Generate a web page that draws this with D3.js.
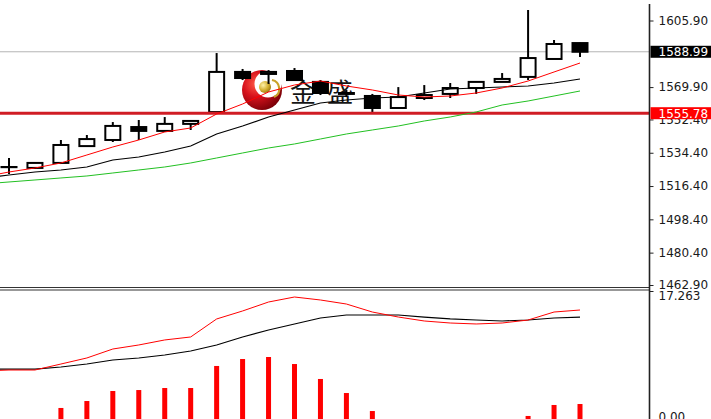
<!DOCTYPE html>
<html>
<head>
<meta charset="utf-8">
<script src="https://cdn.jsdelivr.net/npm/d3@7"></script>
<style>
  html, body { margin: 0; padding: 0; background: #fff; overflow: hidden; }
  svg { display: block; }
</style>
</head>
<body>
<div id="chart"></div>
<script>
// ---------------- data ----------------
const open  = [1526.6, 1526.2, 1528.9, 1538.0, 1541.3, 1548.3, 1546.2, 1550.0, 1556.4, 1578.1, 1577.0, 1578.6, 1572.7, 1566.2, 1565.1, 1558.6, 1564.0, 1566.2, 1569.4, 1572.7, 1575.4, 1585.1, 1593.7];
const high  = [1531.6, 1529.0, 1541.3, 1544.0, 1551.0, 1552.1, 1553.7, 1552.1, 1588.3, 1579.7, 1579.1, 1580.2, 1573.7, 1568.3, 1566.2, 1569.9, 1571.0, 1572.1, 1572.7, 1577.5, 1611.6, 1595.4, 1593.9];
const low   = [1522.9, 1525.6, 1528.3, 1537.8, 1540.2, 1541.3, 1545.6, 1546.7, 1556.2, 1573.7, 1571.6, 1573.2, 1565.6, 1564.5, 1555.9, 1558.6, 1562.9, 1564.0, 1566.2, 1572.7, 1573.7, 1585.1, 1586.2];
const close = [1526.7, 1528.9, 1538.6, 1541.8, 1548.9, 1546.2, 1550.0, 1551.6, 1578.1, 1574.8, 1578.1, 1573.7, 1566.7, 1566.7, 1558.6, 1564.5, 1565.6, 1569.4, 1572.7, 1574.3, 1585.6, 1593.2, 1588.99];

// moving averages (first value belongs to the bar before the first visible one)
const maRed   = [1521.30, 1524.00, 1526.16, 1528.87, 1533.19, 1537.51, 1541.30, 1545.63, 1547.79, 1555.35, 1560.76, 1567.25, 1571.03, 1573.19, 1570.49, 1568.33, 1565.63, 1564.54, 1565.08, 1566.71, 1569.41, 1573.19, 1578.06, 1582.92];
const maBlack = [1520.76, 1522.38, 1524.00, 1525.08, 1526.70, 1530.49, 1532.11, 1534.81, 1538.05, 1544.54, 1548.87, 1553.73, 1557.52, 1561.30, 1562.92, 1564.00, 1564.54, 1566.71, 1568.87, 1569.41, 1569.95, 1570.49, 1572.11, 1574.28];
const maGreen = [1517.51, 1518.60, 1519.68, 1520.76, 1521.84, 1523.46, 1525.08, 1526.70, 1528.87, 1531.57, 1534.27, 1536.97, 1539.14, 1541.84, 1544.54, 1546.71, 1548.87, 1551.57, 1553.73, 1556.44, 1560.22, 1562.38, 1565.08, 1567.79];

// MACD panel
const macdRed   = [6.56, 6.69, 6.69, 7.49, 8.30, 9.50, 10.04, 10.71, 11.11, 13.52, 14.59, 15.79, 16.46, 16.06, 15.52, 14.45, 13.78, 13.25, 12.98, 12.85, 12.98, 13.38, 14.45, 14.72];
const macdBlack = [6.82, 6.82, 6.82, 7.09, 7.49, 8.03, 8.30, 8.70, 9.23, 10.04, 11.11, 12.04, 12.85, 13.65, 14.05, 14.05, 14.05, 13.78, 13.52, 13.38, 13.25, 13.38, 13.65, 13.78];
const macdHist  = [0, 0, 1.61, 2.54, 3.88, 4.01, 4.28, 4.28, 7.23, 8.16, 8.43, 7.49, 5.49, 3.61, 1.20, 0, 0, 0, 0, 0, 0.54, 2.01, 2.14];

const priceTicks = [1605.90, 1569.90, 1552.40, 1534.40, 1516.40, 1498.40, 1480.40, 1462.90];
const macdTicks  = [17.263, 0];
const lastPrice  = 1588.99;
const levelPrice = 1555.78;
const logoText   = ["金", "盛"];

// ---------------- drawing ----------------
const W = 711, H = 419;
const axisX = 649.5;
const svg = d3.select("#chart").append("svg").attr("width", W).attr("height", H);

const x  = d3.scaleLinear().domain([0, 22]).range([9, 580]);
const y  = d3.scaleLinear().domain([1462.9, 1605.9]).range([285, 20.5]);
const my = d3.scaleLinear().domain([0, 17.263]).range([420, 291]);

const defs = svg.append("defs");
defs.append("clipPath").attr("id", "mainClip").append("rect")
  .attr("x", 0).attr("y", 0).attr("width", axisX).attr("height", 287);
defs.append("clipPath").attr("id", "macdClip").append("rect")
  .attr("x", 0).attr("y", 291).attr("width", axisX).attr("height", 130);

const rg = defs.append("radialGradient").attr("id", "redBall")
  .attr("cx", "35%").attr("cy", "35%").attr("r", "70%");
rg.append("stop").attr("offset", "0%").attr("stop-color", "#ff5a48");
rg.append("stop").attr("offset", "45%").attr("stop-color", "#d8121c");
rg.append("stop").attr("offset", "100%").attr("stop-color", "#7a0008");
const gg = defs.append("radialGradient").attr("id", "goldBall")
  .attr("cx", "35%").attr("cy", "35%").attr("r", "70%");
gg.append("stop").attr("offset", "0%").attr("stop-color", "#fff2a8");
gg.append("stop").attr("offset", "60%").attr("stop-color", "#d4b030");
gg.append("stop").attr("offset", "100%").attr("stop-color", "#9a7810");

const main = svg.append("g").attr("clip-path", "url(#mainClip)");

// last price grey line
main.append("line")
  .attr("x1", 0).attr("x2", axisX)
  .attr("y1", y(lastPrice)).attr("y2", y(lastPrice))
  .attr("stroke", "#b4b4b4").attr("stroke-width", 1);

// watermark logo
const logo = main.append("g");
logo.append("circle").attr("cx", 262).attr("cy", 90).attr("r", 20).attr("fill", "url(#redBall)");
logo.append("circle").attr("cx", 268).attr("cy", 84).attr("r", 13.5).attr("fill", "#fff");
logo.append("circle").attr("cx", 265).attr("cy", 87).attr("r", 6).attr("fill", "url(#goldBall)");
logo.append("path").attr("d", "M272,80 A9,9 0 0 1 274,97")
  .attr("fill", "none").attr("stroke", "#c9a22a").attr("stroke-width", 2.2);
logo.selectAll("text").data(logoText).join("text")
  .attr("x", (d, i) => i === 0 ? 290 : 327)
  .attr("y", 102)
  .attr("font-family", "'Noto Sans CJK SC', sans-serif")
  .attr("font-size", 26)
  .attr("fill", "#151515")
  .text(d => d);

// candles
const idx = d3.range(open.length);
const cg = main.append("g");
cg.selectAll("line.wick").data(idx).join("line")
  .attr("class", "wick")
  .attr("x1", i => x(i)).attr("x2", i => x(i))
  .attr("y1", i => y(high[i])).attr("y2", i => y(low[i]))
  .attr("stroke", "#000").attr("stroke-width", 2);
cg.selectAll("rect.body").data(idx).join("rect")
  .attr("class", "body")
  .attr("x", i => x(i) - 7.5).attr("width", 15)
  .attr("y", i => y(Math.max(open[i], close[i])))
  .attr("height", i => Math.abs(y(open[i]) - y(close[i])))
  .attr("fill", i => close[i] < open[i] ? "#000" : "#fff")
  .attr("stroke", "#000").attr("stroke-width", 2);

// level line
main.append("line")
  .attr("x1", 0).attr("x2", axisX)
  .attr("y1", y(levelPrice)).attr("y2", y(levelPrice))
  .attr("stroke", "#d01c24").attr("stroke-width", 3);

// moving averages
const maIdx = d3.range(-1, 23);
const lineMain = arr => d3.line().x((d, k) => x(maIdx[k])).y(d => y(d))(arr);
main.append("path").attr("d", lineMain(maGreen)).attr("fill", "none").attr("stroke", "#22c022").attr("stroke-width", 1);
main.append("path").attr("d", lineMain(maBlack)).attr("fill", "none").attr("stroke", "#000").attr("stroke-width", 1.2);
main.append("path").attr("d", lineMain(maRed)).attr("fill", "none").attr("stroke", "#ff0000").attr("stroke-width", 1);

// panel separators
svg.append("line").attr("x1", 0).attr("x2", axisX).attr("y1", 287.5).attr("y2", 287.5).attr("stroke", "#333").attr("stroke-width", 1.2);
svg.append("line").attr("x1", 0).attr("x2", axisX).attr("y1", 290).attr("y2", 290).attr("stroke", "#333").attr("stroke-width", 1.2);

// MACD panel
const mg = svg.append("g").attr("clip-path", "url(#macdClip)");
mg.selectAll("rect").data(idx.filter(i => macdHist[i] > 0)).join("rect")
  .attr("x", i => x(i) - 2.5).attr("width", 5)
  .attr("y", i => my(macdHist[i]))
  .attr("height", i => my(0) - my(macdHist[i]))
  .attr("fill", "#ff0000");
const lineMacd = arr => d3.line().x((d, k) => x(maIdx[k])).y(d => my(d))(arr);
mg.append("path").attr("d", lineMacd(macdBlack)).attr("fill", "none").attr("stroke", "#000").attr("stroke-width", 1.2);
mg.append("path").attr("d", lineMacd(macdRed)).attr("fill", "none").attr("stroke", "#ff0000").attr("stroke-width", 1);

// right axis line
svg.append("line").attr("x1", axisX).attr("x2", axisX).attr("y1", 4).attr("y2", H)
  .attr("stroke", "#222").attr("stroke-width", 1.6);

const fontFam = "'DejaVu Sans', Verdana, sans-serif";
const ax = svg.append("g").attr("transform", `translate(${axisX},0)`)
  .call(d3.axisRight(y).tickValues(priceTicks).tickFormat(d3.format(".2f")).tickSize(4).tickPadding(5));
ax.select(".domain").remove();
ax.selectAll("line").attr("stroke", "#222");
ax.selectAll("text").attr("font-family", fontFam).attr("font-size", 12).attr("fill", "#1a1a1a");

const ax2 = svg.append("g").attr("transform", `translate(${axisX},0)`)
  .call(d3.axisRight(my).tickValues(macdTicks).tickFormat(d => d === 0 ? "0.00" : d3.format(".3f")(d)).tickSize(4).tickPadding(5));
ax2.select(".domain").remove();
ax2.selectAll("line").attr("stroke", "#222");
ax2.selectAll("text").attr("font-family", fontFam).attr("font-size", 12).attr("fill", "#1a1a1a")
  .attr("y", d => d === 0 ? -3 : 5);

// price boxes
function priceBox(v, bg) {
  const g = svg.append("g");
  g.append("rect").attr("x", axisX + 1).attr("y", y(v) - 6).attr("width", W - axisX).attr("height", 12).attr("fill", bg);
  g.append("text").attr("x", axisX + 9).attr("y", y(v)).attr("dy", "0.36em")
    .attr("font-family", fontFam).attr("font-size", 12).attr("fill", "#fff")
    .text(d3.format(".2f")(v));
}
priceBox(lastPrice, "#000");
priceBox(levelPrice, "#ff0000");
</script>
</body>
</html>
